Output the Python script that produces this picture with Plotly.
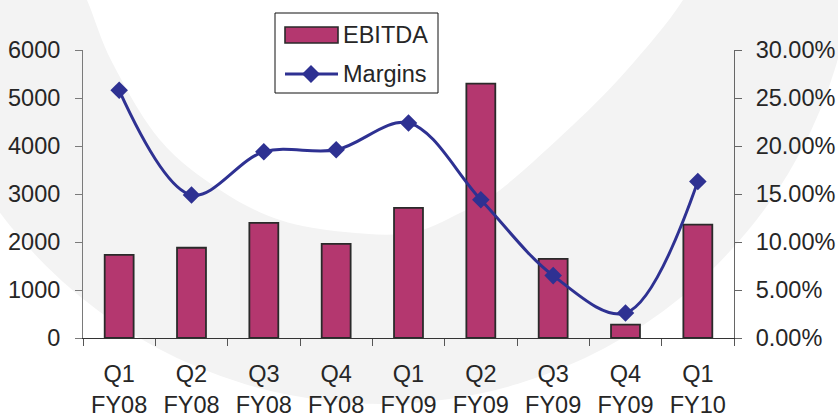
import plotly.graph_objects as go

# ---- data -------------------------------------------------------------
quarters = ["Q1<br>FY08", "Q2<br>FY08", "Q3<br>FY08", "Q4<br>FY08", "Q1<br>FY09",
            "Q2<br>FY09", "Q3<br>FY09", "Q4<br>FY09", "Q1<br>FY10"]
ebitda = [1730, 1880, 2400, 1960, 2710, 5300, 1650, 280, 2360]
margins = [0.258, 0.149, 0.194, 0.196, 0.224, 0.144, 0.065, 0.026, 0.163]

# ---- page geometry (pixels) -------------------------------------------
W, H = 838, 419
ML, MR, MT, MB = 83, 104, 50, 81
PW, PH = W - ML - MR, H - MT - MB

FONT = "Arial, 'Liberation Sans', sans-serif"
TXT = "#262626"
BAR = "#b4376f"
LINE = "#2e3192"
RING = "#f3f3f3"
FS = 23.5


def px(x):
    return (x - ML) / PW


def py(y):
    return (H - MB - y) / PH


def smooth_path(points):
    """Closed Catmull-Rom curve through pixel points, as an SVG path in paper units."""
    pts = [(px(x), py(y)) for x, y in points]
    d = f"M{pts[0][0]:.4f},{pts[0][1]:.4f}"
    n = len(pts)
    for i in range(n - 1):
        p0 = pts[i - 1] if i > 0 else pts[i]
        p1, p2 = pts[i], pts[i + 1]
        p3 = pts[i + 2] if i + 2 < n else p2
        c1 = (p1[0] + (p2[0] - p0[0]) / 6, p1[1] + (p2[1] - p0[1]) / 6)
        c2 = (p2[0] - (p3[0] - p1[0]) / 6, p2[1] - (p3[1] - p1[1]) / 6)
        d += (f" C{c1[0]:.4f},{c1[1]:.4f} {c2[0]:.4f},{c2[1]:.4f}"
              f" {p2[0]:.4f},{p2[1]:.4f}")
    return d + " Z"


# decorative background swoosh: a grey disc with a white hollow
ring_outer = dict(cx=381, cy=-71, r=475)
ring_inner = [(60, -60), (87, 0), (112, 62), (160, 140), (220, 190), (280, 220),
              (345, 232), (410, 233), (460, 213), (500, 190), (573, 125),
              (627, 70), (683, 0), (710, -60)]

shapes = [
    dict(type="circle", xref="paper", yref="paper", layer="below",
         x0=px(ring_outer["cx"] - ring_outer["r"]), x1=px(ring_outer["cx"] + ring_outer["r"]),
         y0=py(ring_outer["cy"] + ring_outer["r"]), y1=py(ring_outer["cy"] - ring_outer["r"]),
         fillcolor=RING, line=dict(width=0)),
    dict(type="path", xref="paper", yref="paper", layer="below",
         path=smooth_path(ring_inner), fillcolor="white", line=dict(width=0)),
]

# custom legend box
LG = dict(x0=275, y0=13, x1=438, y1=93)
shapes += [
    dict(type="rect", xref="paper", yref="paper", layer="above",
         x0=px(LG["x0"]), x1=px(LG["x1"]), y0=py(LG["y1"]), y1=py(LG["y0"]),
         fillcolor="white", line=dict(color="#111111", width=1)),
    dict(type="rect", xref="paper", yref="paper", layer="above",
         x0=px(285), x1=px(338), y0=py(43), y1=py(27),
         fillcolor=BAR, line=dict(color="#2a2a2a", width=1.6)),
    dict(type="line", xref="paper", yref="paper", layer="above",
         x0=px(285), x1=px(338), y0=py(74), y1=py(74),
         line=dict(color=LINE, width=3)),
    dict(type="path", xref="paper", yref="paper", layer="above",
         path=(f"M{px(311):.4f},{py(65):.4f} L{px(320):.4f},{py(74):.4f} "
               f"L{px(311):.4f},{py(83):.4f} L{px(302):.4f},{py(74):.4f} Z"),
         fillcolor=LINE, line=dict(width=0)),
]

annotations = [
    dict(text="EBITDA", xref="paper", yref="paper", x=px(341), y=py(35),
         xanchor="left", yanchor="middle", showarrow=False,
         font=dict(family=FONT, size=FS, color=TXT)),
    dict(text="Margins", xref="paper", yref="paper", x=px(341), y=py(74),
         xanchor="left", yanchor="middle", showarrow=False,
         font=dict(family=FONT, size=FS, color=TXT)),
]

fig = go.Figure()
fig.add_trace(go.Bar(
    x=quarters, y=ebitda, name="EBITDA",
    marker=dict(color=BAR, line=dict(color="#2a2a2a", width=1.8)),
))
fig.add_trace(go.Scatter(
    x=quarters, y=margins, name="Margins", yaxis="y2",
    mode="lines+markers",
    line=dict(color=LINE, width=3, shape="spline", smoothing=1),
    marker=dict(symbol="diamond", size=13.5, color=LINE),
))

tickfont = dict(family=FONT, size=FS, color=TXT)
fig.update_layout(
    width=W, height=H,
    margin=dict(l=ML, r=MR, t=MT, b=MB, pad=0, autoexpand=False),
    paper_bgcolor="white", plot_bgcolor="rgba(0,0,0,0)",
    showlegend=False, bargap=0.6,
    shapes=shapes, annotations=annotations,
    xaxis=dict(
        range=[-0.5, len(quarters) - 0.5],
        showline=True, linecolor="#333333", linewidth=1.3, automargin=False,
        ticks="outside", tickson="boundaries", ticklen=7, tickcolor="#555555",
        tickfont=tickfont, showgrid=False, zeroline=False, ticklabelstandoff=15,
    ),
    yaxis=dict(
        range=[0, 6000], dtick=1000, showline=True, linecolor="#7a7a7a",
        ticks="outside", ticklen=7, tickcolor="#7a7a7a", tickfont=tickfont,
        showgrid=False, zeroline=False, ticklabelstandoff=10, automargin=False,
    ),
    yaxis2=dict(
        range=[0, 0.30], dtick=0.05, tickformat=".2%", overlaying="y", side="right",
        showline=True, linecolor="#666666", ticks="outside", ticklen=7,
        tickcolor="#666666", tickfont=tickfont, showgrid=False, zeroline=False,
        ticklabelstandoff=9, automargin=False,
    ),
    # inner halves of the crossing tick marks
    yaxis3=dict(
        range=[0, 6000], dtick=1000, overlaying="y", side="left", anchor="x",
        ticks="inside", ticklen=7, tickcolor="#7a7a7a", showticklabels=False,
        showline=False, showgrid=False, zeroline=False, automargin=False,
    ),
    yaxis4=dict(
        range=[0, 0.30], dtick=0.05, overlaying="y", side="right", anchor="x",
        ticks="inside", ticklen=7, tickcolor="#666666", showticklabels=False,
        showline=False, showgrid=False, zeroline=False, automargin=False,
    ),
)

fig.write_html("out.html")
